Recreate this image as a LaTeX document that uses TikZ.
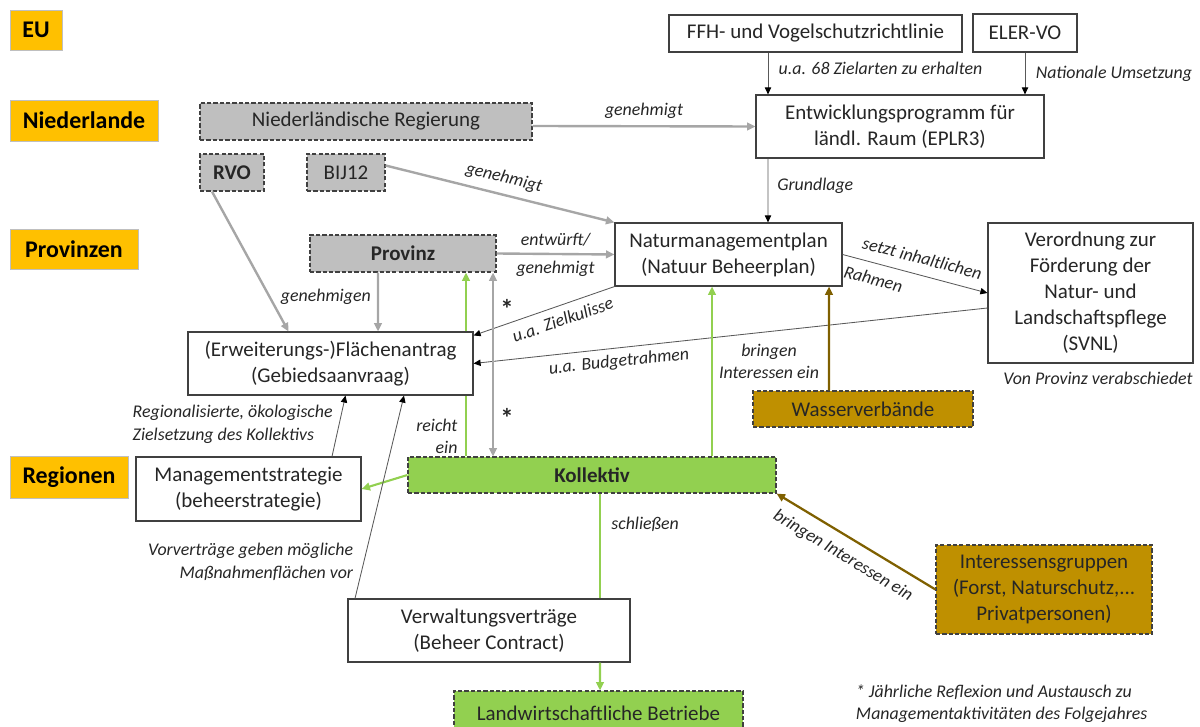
\documentclass[tikz,border=0pt]{standalone}
\usepackage{fontspec}
\setmainfont{Carlito}
\usetikzlibrary{arrows.meta}
\usetikzlibrary{positioning}
\usetikzlibrary{backgrounds}
\definecolor{lvlyellow}{HTML}{FFC000}
\definecolor{mgray}{HTML}{BFBFBF}
\definecolor{mgreen}{HTML}{92D050}
\definecolor{mgold}{HTML}{BF9000}
\definecolor{mbrown}{HTML}{7F6000}
\definecolor{lgray}{HTML}{A6A6A6}
\newcommand{\px}{0.025cm}
\tikzset{
  boxsize/.style 2 args = {minimum width=#1*\px, minimum height=#2*\px},
  lvl/.style = {fill=lvlyellow, draw=mgray, inner sep=0, font=\fontsize{17}{20}\selectfont\bfseries},
  box/.style = {draw=black!75, fill=white, line width=0.8pt, align=center, inner sep=0,
    text=black!85, font=\fontsize{14.9}{18.5}\selectfont},
  dbox/.style = {box, dash pattern=on 3pt off 1.5pt},
  lab/.style = {text=black!85, font=\fontsize{12.7}{16}\selectfont\itshape},
  star/.style = {text=black!85, font=\fontsize{19}{20}\selectfont\bfseries},
  grayarr/.style = {draw=lgray, line width=1.7pt, -{Triangle[length=6pt, width=5.5pt]}},
  thinarr/.style = {draw=black!65, line width=0.6pt, -{Triangle[length=5pt, width=4.5pt, color=black]}},
  greenarr/.style = {draw=mgreen, line width=1.5pt, -{Triangle[length=6pt, width=5.5pt]}},
  goldarr/.style = {draw=mbrown, line width=1.6pt, -{Triangle[length=6pt, width=5.5pt]}}
}

\begin{document}
\begin{tikzpicture}[x=\px, y=-\px]
  \useasboundingbox (0,0) rectangle (1200,727);

  % levels
  \node [lvl, boxsize={52}{40}] (eu) at (36,30) {EU};
  \node [lvl, boxsize={148}{41}] (nl) at (84,120.5) {Niederlande};
  \node [lvl, boxsize={128}{40}] (prov) at (74,249) {Provinzen};
  \node [lvl, boxsize={118}{42}] (reg) at (69,477) {Regionen};

  % EU / national
  \node [box, boxsize={293}{37}] (ffh) at (815.5,33.5) {FFH- und Vogelschutzrichtlinie};
  \node [box, boxsize={104}{38}] (eler) at (1025,33) {ELER-VO};
  \node [box, boxsize={288}{63}] (eplr) at (900,126.5) {Entwicklungsprogramm für\\ländl. Raum (EPLR3)};
  \node [dbox, fill=mgray, boxsize={332}{37}] (regierung) at (366,121.5) {Niederländische Regierung};
  \node [dbox, fill=mgray, boxsize={64}{37}, font=\fontsize{14.9}{18.5}\selectfont\bfseries] (rvo) at (232,172.5) {RVO};
  \node [dbox, fill=mgray, boxsize={78}{37}] (bij) at (346,172.5) {BIJ12};

  % provinces
  \node [dbox, fill=mgray, boxsize={186}{37}, font=\fontsize{14.9}{18.5}\selectfont\bfseries] (provinz) at (403,253.5) {Provinz};
  \node [box, boxsize={227}{63}] (nmp) at (728.5,254.5) {Naturmanagementplan\\(Natuur Beheerplan)};
  \node [box, boxsize={205}{140}] (svnl) at (1090.5,293) {Verordnung zur\\Förderung der\\Natur- und\\Landschaftspflege\\(SVNL)};
  \node [lab, anchor=north east] (svnlnote) at ([xshift=4*\px, yshift=-4*\px]svnl.south east) {Von Provinz verabschiedet};
  \node [box, boxsize={285}{63}] (flaeche) at (330.5,363.5) {(Erweiterungs-)Flächenantrag\\(Gebiedsaanvraag)};
  \node [dbox, fill=mgold, boxsize={220}{36}] (wasser) at (863,409) {Wasserverbände};

  % regions
  \node [dbox, fill=mgreen, boxsize={368}{36}, font=\fontsize{14.9}{18.5}\selectfont\bfseries] (kollektiv) at (592,475) {Kollektiv};
  \node [box, boxsize={225}{64}] (mgmt) at (248.5,489) {Managementstrategie\\(beheerstrategie)};
  \node [box, boxsize={282}{63}] (verw) at (489,630.5) {Verwaltungsverträge\\(Beheer Contract)};
  \node [dbox, fill=mgreen, boxsize={289}{44}] (landw) at (598.5,713) {Landwirtschaftliche Betriebe};
  \node [dbox, fill=mgold, boxsize={216}{89}] (interessen) at (1044,589.5) {Interessensgruppen\\(Forst, Naturschutz,...\\Privatpersonen)};
  \node [lab, align=left, anchor=west] (footnote) at (851,703.5) {* Jährliche Reflexion und Austausch zu\\Managementaktivitäten des Folgejahres};

  % connectors
  \draw [thinarr] ([xshift=-47.5*\px]ffh.south) -- ([xshift=-132*\px]eplr.north)
    node [lab, pos=0.37, right=4pt] {u.a. 68 Zielarten zu erhalten};
  \draw [thinarr] (eler.south) -- ([xshift=125*\px]eplr.north)
    node [lab, pos=0.5, right=4pt] {Nationale Umsetzung};
  \draw [grayarr] ([yshift=-4.5*\px]regierung.east) -- (eplr.west)
    node [lab, midway, above=1pt] {genehmigt};
  \draw [thinarr] ([xshift=-132*\px]eplr.south) -- ([xshift=39.5*\px]nmp.north)
    node [lab, pos=0.42, right=3pt] {Grundlage};
  \draw [grayarr] ([yshift=7*\px]bij.east) -- (nmp.north west)
    node [lab, midway, above=2pt, sloped] {genehmigt};
  \draw [grayarr] (provinz.east) -- (nmp.west)
    node [lab, midway, above=1pt] {entwürft/}
    node [lab, midway, below=1pt] {genehmigt};
  \draw [grayarr] ([xshift=-20*\px]rvo.south) -- ([xshift=-42*\px]flaeche.north);
  \draw [grayarr] ([xshift=-25*\px]provinz.south) -- ([xshift=47.5*\px]flaeche.north)
    node [lab, pos=0.42, left=1pt] {genehmigen};
  \draw [thinarr] (nmp.south west) -- ([yshift=-4*\px]flaeche.north east)
    node [lab, pos=0.4, below=2pt, sloped] {u.a. Zielkulisse};
  \draw [thinarr] ([yshift=-15*\px]svnl.west) -- (flaeche.east)
    node [lab, pos=0.72, below=1pt, sloped] {u.a. Budgetrahmen};
  \draw [thinarr] (nmp.east) -- (svnl.west)
    node [lab, pos=0.52, above=4pt, sloped] {setzt inhaltlichen}
    node [lab, pos=0.24, below=3pt, sloped] {Rahmen};
  \begin{pgfonlayer}{background}
    \draw [greenarr] ([xshift=-126*\px]kollektiv.north) -- ([xshift=63*\px]provinz.south)
      node [lab, pos=0.11, left=2pt, align=right] {reicht\\ein};
  \end{pgfonlayer}
  \draw [grayarr, {Triangle[length=6pt, width=5.5pt]}-{Triangle[length=6pt, width=5.5pt]}]
    ([xshift=90*\px]provinz.south) -- ([xshift=-99*\px]kollektiv.north)
    node [star, pos=0.2, right=1pt] {*}
    node [star, pos=0.79, right=1pt] {*};
  \draw [greenarr] ([xshift=120*\px]kollektiv.north) -- ([xshift=-16.5*\px]nmp.south);
  \draw [goldarr] ([xshift=-34*\px]wasser.north) -- ([xshift=100.5*\px]nmp.south)
    node [lab, pos=0.28, left=3pt, align=center] {bringen\\Interessen ein};
  \draw [greenarr] (kollektiv.west) -- (mgmt.east);
  \draw [thinarr] ([xshift=83.5*\px]mgmt.north) -- ([xshift=15*\px]flaeche.south)
    node [lab, pos=0.53, left=1pt, align=left] {Regionalisierte, ökologische\\Zielsetzung des Kollektivs};
  \draw [thinarr] ([xshift=-134*\px]verw.north) -- ([xshift=73.5*\px]flaeche.south)
    node [lab, pos=0.18, left=4pt, align=right] {Vorverträge geben mögliche\\Maßnahmenflächen vor};
  \draw [greenarr, -] ([xshift=8*\px]kollektiv.south) -- ([xshift=111*\px]verw.north)
    node [lab, pos=0.29, right=4pt] {schließen};
  \draw [greenarr] ([xshift=111*\px]verw.south) -- ([xshift=1.5*\px]landw.north);
  \draw [goldarr] (interessen.west) -- (kollektiv.south east)
    node [lab, pos=0.52, below=4pt, sloped] {bringen Interessen ein};
\end{tikzpicture}
\end{document}
